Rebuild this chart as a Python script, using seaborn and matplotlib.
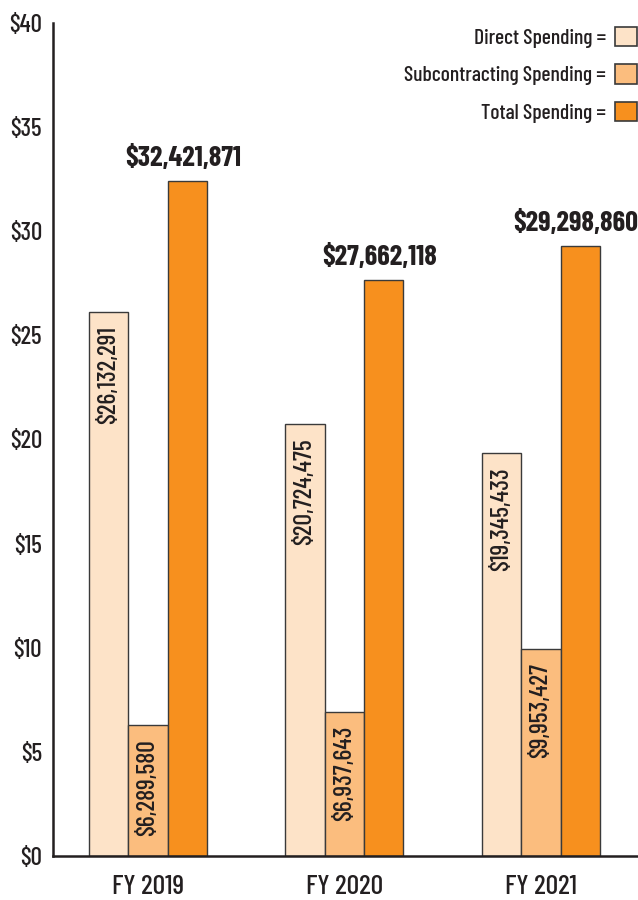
import numpy as np
import pandas as pd
import seaborn as sns
import matplotlib.pyplot as plt
from matplotlib.patches import Patch
from matplotlib.ticker import MultipleLocator, FuncFormatter

years = ['FY 2019', 'FY 2020', 'FY 2021']
series = ['Direct Spending', 'Subcontracting Spending', 'Total Spending']
direct = [26132291, 20724475, 19345433]
subcontracting = [6289580, 6937643, 9953427]
total = [32421871, 27662118, 29298860]
colors = ['#fde3c8', '#fbbd7e', '#f7901e']

sns.set_style('white')
plt.rcParams['font.family'] = ['Barlow Condensed', 'DejaVu Sans']
plt.rcParams['font.weight'] = 500
ink = '#231f20'

# long-form table, values in millions of dollars
df = pd.DataFrame({
    'year': years * 3,
    'series': [s for s in series for _ in years],
    'dollars': direct + subcontracting + total,
})
df['millions'] = df['dollars'] / 1e6

fig = plt.figure(figsize=(6.38, 9), dpi=100)
ax = fig.add_axes([53 / 638, 44 / 900, 1 - 53 / 638, (856 - 23) / 900])

sns.barplot(data=df, x='year', y='millions', hue='series', hue_order=series,
            palette=colors, width=0.6, edgecolor='#3a3a3a', linewidth=1.0,
            saturation=1, legend=False, ax=ax)

ax.set_ylim(0, 40)
ax.set_xlim(-0.483, 2.494)
ax.set_xlabel('')
ax.set_ylabel('')

# value labels
for container, name in zip(ax.containers, series):
    rows = df[df['series'] == name]
    for bar, val in zip(container.patches, rows['dollars']):
        cx = bar.get_x() + bar.get_width() / 2
        top = bar.get_height()
        label = f'${val:,.0f}'
        if name == 'Total Spending':
            ax.annotate(label, (cx, top), xytext=(-3, 7), textcoords='offset points',
                        ha='center', va='bottom', fontsize=20.5, fontweight='bold',
                        color=ink)
        else:
            ax.annotate(label, (cx, top), xytext=(0, -10), textcoords='offset points',
                        ha='center', va='top', rotation=90, fontsize=18.5,
                        color=ink)

# axes styling
for side in ['top', 'right']:
    ax.spines[side].set_visible(False)
for side in ['left', 'bottom']:
    ax.spines[side].set_linewidth(1.8)
    ax.spines[side].set_color(ink)

ax.yaxis.set_major_locator(MultipleLocator(5))
ax.yaxis.set_major_formatter(FuncFormatter(lambda v, p: f'${v:.0f}'))
ax.tick_params(axis='y', direction='in', length=11, width=1.8, color=ink,
               labelsize=18, pad=8, labelcolor=ink)
ax.tick_params(axis='x', which='major', length=0, labelsize=20, pad=14,
               labelcolor=ink)
ax.set_xticks([0.5, 1.5], minor=True)
ax.tick_params(axis='x', which='minor', direction='in', length=10, width=1.8,
               color=ink)

handles = [Patch(facecolor=c, edgecolor='#3a3a3a', linewidth=1.2) for c in colors]
leg = ax.legend(handles, [s + ' =' for s in series], loc='upper right',
                bbox_to_anchor=(1.0, 0.997), frameon=False, markerfirst=False,
                fontsize=15.5, handlelength=1.0, handleheight=1.0,
                handletextpad=0.45, labelspacing=0.78, borderpad=0,
                borderaxespad=0.05)
for t in leg.get_texts():
    t.set_color(ink)

fig.savefig('out.png', dpi=100)
